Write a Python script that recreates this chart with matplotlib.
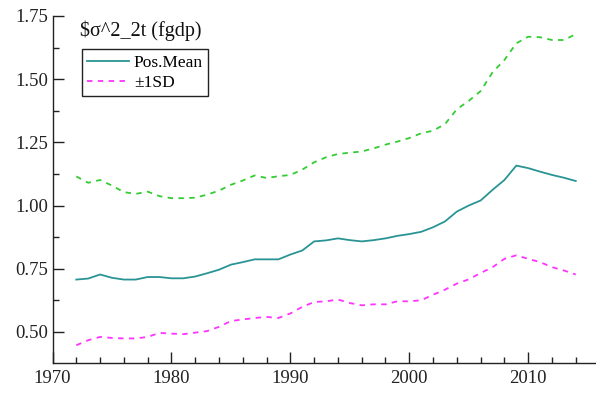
import matplotlib
matplotlib.use("Agg")
import matplotlib.pyplot as plt
from matplotlib.ticker import MultipleLocator, FormatStrFormatter

# Yearly estimates of sigma^2_2t with +/- 1 SD band
years = list(range(1972, 2015))

pos_mean = [0.707, 0.711, 0.727, 0.714, 0.707, 0.707, 0.717, 0.717, 0.712, 0.712,
            0.719, 0.732, 0.746, 0.766, 0.776, 0.787, 0.787, 0.787, 0.806, 0.822,
            0.858, 0.862, 0.870, 0.863, 0.858, 0.863, 0.870, 0.880, 0.887, 0.896,
            0.914, 0.937, 0.976, 1.000, 1.020, 1.062, 1.101, 1.158, 1.148, 1.134,
            1.121, 1.110, 1.097]

upper_sd = [1.115, 1.090, 1.101, 1.079, 1.053, 1.046, 1.055, 1.037, 1.029, 1.029,
            1.031, 1.043, 1.059, 1.082, 1.099, 1.119, 1.109, 1.116, 1.121, 1.142,
            1.171, 1.191, 1.204, 1.209, 1.214, 1.226, 1.241, 1.253, 1.267, 1.286,
            1.296, 1.322, 1.381, 1.414, 1.453, 1.527, 1.576, 1.642, 1.668, 1.666,
            1.655, 1.655, 1.678]

lower_sd = [0.447, 0.467, 0.480, 0.476, 0.474, 0.474, 0.480, 0.496, 0.493, 0.491,
            0.497, 0.503, 0.520, 0.543, 0.549, 0.555, 0.559, 0.555, 0.573, 0.599,
            0.618, 0.621, 0.628, 0.614, 0.605, 0.609, 0.609, 0.621, 0.621, 0.625,
            0.647, 0.667, 0.691, 0.708, 0.733, 0.756, 0.789, 0.803, 0.789, 0.776,
            0.756, 0.743, 0.727]

plt.rcParams['font.family'] = ['Liberation Serif', 'DejaVu Serif']

fig = plt.figure(figsize=(5.96, 3.96), dpi=100)
ax = fig.add_axes([52.5 / 596, (396 - 362.7) / 396, (596 - 52.5) / 596, (362.7 - 16) / 396])

ax.plot(years, pos_mean, color='#2a9494', lw=1.3, label='Pos.Mean')
ax.plot(years, upper_sd, color='#33cc33', lw=1.3, ls=(0, (3, 3)))
ax.plot(years, lower_sd, color='#ff33ff', lw=1.3, ls=(0, (3, 3)), label='±1SD')

ax.set_xlim(1970, 2015.7)
ax.set_ylim(0.378, 1.75)

ax.xaxis.set_major_locator(MultipleLocator(10))
ax.xaxis.set_minor_locator(MultipleLocator(2))
ax.yaxis.set_major_locator(MultipleLocator(0.25))
ax.yaxis.set_minor_locator(MultipleLocator(0.125))
ax.yaxis.set_major_formatter(FormatStrFormatter('%.2f'))

ax.tick_params(which='major', direction='in', length=8, width=1, labelsize=13.5,
               colors='#222222', pad=5)
ax.tick_params(which='minor', direction='in', length=4.5, width=1, colors='#222222')
ax.tick_params(axis='y', pad=3)

for side in ['top', 'right']:
    ax.spines[side].set_visible(False)
for side in ['left', 'bottom']:
    ax.spines[side].set_color('#222222')
    ax.spines[side].set_linewidth(1)

fig.text(80 / 596, 1 - 31 / 396, r'\$σ^2_2t (fgdp)', fontsize=14.5, va='center', ha='left',
         color='#111111')

leg = ax.legend(loc='upper left',
                bbox_to_anchor=((81.7 - 52.5) / (596 - 52.5), (362.7 - 49.3) / (362.7 - 16)),
                fontsize=12.5, frameon=True, fancybox=False, framealpha=1,
                edgecolor='#222222', handlelength=2.4, handletextpad=0.3,
                borderpad=0.3, labelspacing=0.25, borderaxespad=0)
leg.get_frame().set_linewidth(1)

fig.savefig('out.png', dpi=100)
